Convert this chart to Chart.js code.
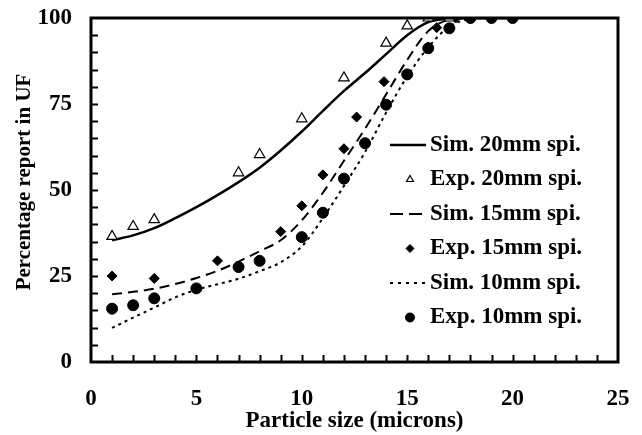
<!DOCTYPE html>
<html>
<head>
<meta charset="utf-8">
<script src="https://cdn.jsdelivr.net/npm/chart.js@4.4.1/dist/chart.umd.min.js"></script>
<style>
  html, body { margin: 0; padding: 0; background: #ffffff; }
  #wrap { width: 642px; height: 435px; position: relative; }
</style>
</head>
<body>
<div id="wrap"><canvas id="chart"></canvas></div>
<script>
// ---- data ----
const simX = [1, 2, 3, 4, 5, 6, 7, 8, 9, 10, 11, 12, 13, 14, 15, 16, 17, 18, 19, 20];
const sim20 = [35.4, 36.8, 38.9, 41.8, 45, 48.5, 52.3, 56.5, 61.5, 67, 73, 78.8, 84, 89.5, 95, 98.8, 99.8, 100, 100, 100];
const sim15 = [19.7, 20.4, 21.3, 22.7, 24.4, 26.5, 29.2, 32.2, 35.4, 41.2, 49.2, 58.5, 67.8, 77.8, 87.8, 96.2, 99.5, 100, 100, 100];
const sim10 = [9.9, 12.9, 15.8, 18.8, 21, 22.6, 24.2, 26.4, 29, 33.6, 41.8, 51.2, 61, 72.5, 83, 91.5, 97.5, 99.7, 100, 100];

const exp20X = [1, 2, 3, 7, 8, 10, 12, 14, 15, 16, 17];
const exp20Y = [36.5, 39.4, 41.4, 55, 60.3, 70.7, 82.6, 92.7, 97.7, 100, 100];
const exp15X = [1, 3, 6, 9, 10, 11, 12, 12.6, 13.9, 16, 16.4, 17.3, 18, 19, 20];
const exp15Y = [25, 24.3, 29.4, 37.9, 45.4, 54.4, 62, 71.2, 81.5, 91.6, 97.2, 100, 100, 100, 100];
const exp10X = [1, 2, 3, 5, 7, 8, 10, 11, 12, 13, 14, 15, 16, 17, 18, 19, 20];
const exp10Y = [15.5, 16.5, 18.5, 21.4, 27.6, 29.4, 36.3, 43.4, 53.3, 63.6, 74.8, 83.6, 91.2, 97, 100, 100, 100];

const xTicks = [0, 5, 10, 15, 20, 25];
const yTicks = [0, 25, 50, 75, 100];
const xTitle = 'Particle size (microns)';
const yTitle = 'Percentage report in UF';

const FONT = "'Liberation Serif', 'Times New Roman', serif";

function pts(xs, ys) {
    return xs.map((x, i) => ({ x: x, y: ys[i] }));
}

// inward minor ticks, frame and axis titles
const framePlugin = {
    id: 'frame',
    afterDatasetsDraw(chart) {
        const ctx = chart.ctx;
        const a = chart.chartArea;
        const xs = chart.scales.x;
        const ys = chart.scales.y;
        ctx.save();
        ctx.strokeStyle = '#000';
        ctx.lineWidth = 2;
        for (let v = 1; v < 25; v++) {
            const px = Math.round(xs.getPixelForValue(v)) + 0.5;
            ctx.beginPath();
            ctx.moveTo(px, a.bottom);
            ctx.lineTo(px, a.bottom - 7);
            ctx.stroke();
        }
        for (let v = 5; v < 100; v += 5) {
            const py = Math.round(ys.getPixelForValue(v)) + 0.5;
            ctx.beginPath();
            ctx.moveTo(a.left, py);
            ctx.lineTo(a.left + 7, py);
            ctx.stroke();
        }
        ctx.lineWidth = 3;
        ctx.strokeRect(a.left, a.top, a.right - a.left, a.bottom - a.top);

        ctx.fillStyle = '#000';
        ctx.textAlign = 'center';
        ctx.textBaseline = 'middle';
        ctx.font = 'bold 23px ' + FONT;
        ctx.fillText(xTitle, (a.left + a.right) / 2, 421);
        ctx.translate(25, 182);
        ctx.rotate(-Math.PI / 2);
        ctx.font = 'bold 21px ' + FONT;
        ctx.fillText(yTitle, 0, 0);
        ctx.restore();
    }
};

// legend drawn inside the plot area
const legendPlugin = {
    id: 'insideLegend',
    afterDraw(chart) {
        const ctx = chart.ctx;
        const top = 145, step = 34.5, textX = 430, lineX0 = 390, lineX1 = 426, markX = 410;
        chart.data.datasets.forEach((ds, i) => {
            const y = top + i * step;
            ctx.save();
            ctx.strokeStyle = '#000';
            ctx.lineWidth = ds.borderWidth;
            if (ds.showLine) {
                ctx.setLineDash(ds.legendDash || []);
                ctx.beginPath();
                ctx.moveTo(lineX0, y);
                ctx.lineTo(lineX1, y);
                ctx.stroke();
                ctx.setLineDash([]);
            } else {
                ctx.fillStyle = ds.pointBackgroundColor;
                Chart.helpers.drawPoint(ctx, {
                    pointStyle: ds.pointStyle,
                    radius: ds.legendRadius,
                    borderWidth: ds.borderWidth,
                    rotation: 0
                }, markX, y);
            }
            ctx.font = 'bold 23px ' + FONT;
            ctx.textBaseline = 'middle';
            ctx.textAlign = 'left';
            ctx.fillStyle = '#000';
            ctx.fillText(ds.label, textX, y);
            ctx.restore();
        });
    }
};

const lineBase = { showLine: true, pointRadius: 0, borderColor: '#000', fill: false,
    cubicInterpolationMode: 'monotone', order: 1 };

new Chart(document.getElementById('chart'), {
    type: 'scatter',
    data: {
        datasets: [
            Object.assign({}, lineBase, { label: 'Sim. 20mm spi.', data: pts(simX, sim20), borderWidth: 2.5 }),
            { label: 'Exp. 20mm spi.', data: pts(exp20X, exp20Y), pointStyle: 'triangle', pointRadius: 6,
              legendRadius: 4, pointBackgroundColor: '#fff', pointBorderColor: '#000', borderWidth: 1.2, order: 0 },
            Object.assign({}, lineBase, { label: 'Sim. 15mm spi.', data: pts(simX, sim15), borderWidth: 2,
              borderDash: [10, 6], legendDash: [13, 6] }),
            { label: 'Exp. 15mm spi.', data: pts(exp15X, exp15Y), pointStyle: 'rectRot', pointRadius: 5,
              legendRadius: 4, pointBackgroundColor: '#000', pointBorderColor: '#000', borderWidth: 1, order: 0 },
            Object.assign({}, lineBase, { label: 'Sim. 10mm spi.', data: pts(simX, sim10), borderWidth: 2,
              borderDash: [3, 4], legendDash: [3, 5] }),
            { label: 'Exp. 10mm spi.', data: pts(exp10X, exp10Y), pointStyle: 'circle', pointRadius: 5.5,
              legendRadius: 4.5, pointBackgroundColor: '#000', pointBorderColor: '#000', borderWidth: 1, order: 0 }
        ]
    },
    options: {
        responsive: true,
        maintainAspectRatio: false,
        animation: false,
        layout: { autoPadding: false, padding: { top: 18, right: 24, left: 0, bottom: 0 } },
        plugins: { legend: { display: false }, tooltip: { enabled: false } },
        scales: {
            x: {
                type: 'linear', min: 0, max: 25,
                afterFit(scale) {
                    scale.height = 73;
                    scale.paddingLeft = 0; scale.paddingRight = 0;
                    scale.paddingTop = 0; scale.paddingBottom = 0;
                },
                afterBuildTicks(scale) { scale.ticks = xTicks.map(v => ({ value: v })); },
                grid: { display: false, drawTicks: false },
                border: { display: false },
                ticks: { color: '#000', padding: 23, maxRotation: 0, font: { family: FONT, size: 23, weight: 'bold' } }
            },
            y: {
                type: 'linear', min: 0, max: 100,
                afterFit(scale) {
                    scale.width = 91;
                    scale.paddingLeft = 0; scale.paddingRight = 0;
                    scale.paddingTop = 0; scale.paddingBottom = 0;
                },
                afterBuildTicks(scale) { scale.ticks = yTicks.map(v => ({ value: v })); },
                grid: { display: false, drawTicks: false },
                border: { display: false },
                ticks: { color: '#000', padding: 19, font: { family: FONT, size: 23, weight: 'bold' } }
            }
        }
    },
    plugins: [framePlugin, legendPlugin]
});
</script>
</body>
</html>
